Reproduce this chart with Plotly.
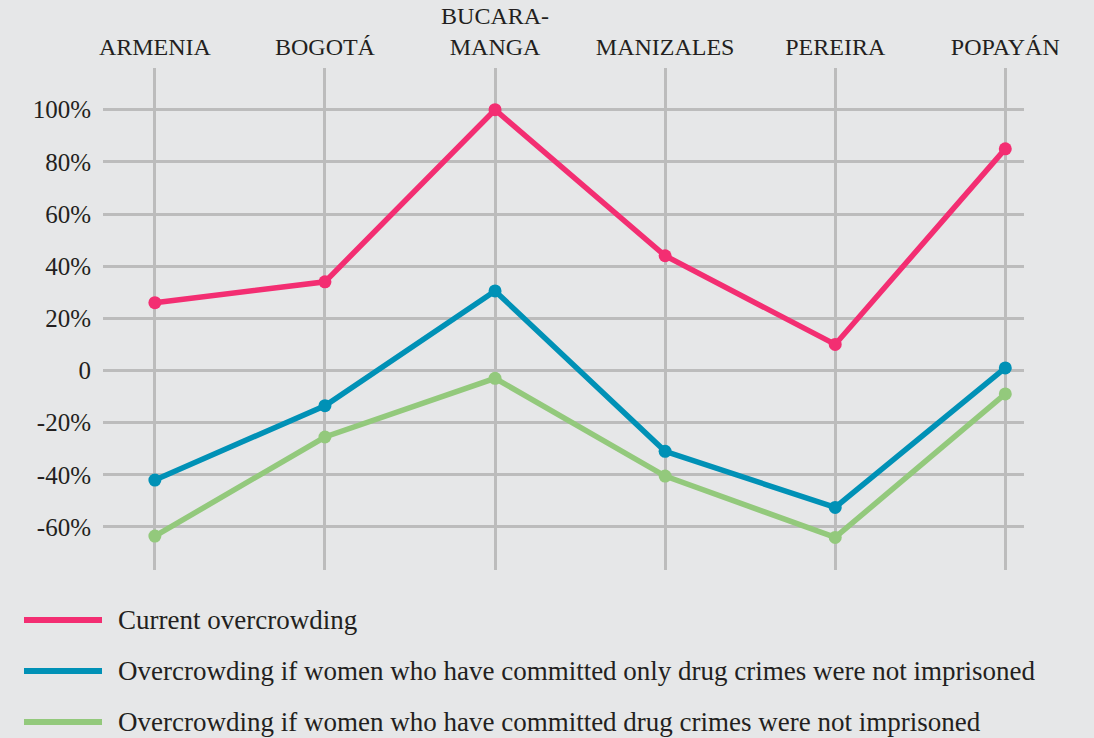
import plotly.graph_objects as go

cities = ["ARMENIA", "BOGOTÁ", "BUCARA-<br>MANGA", "MANIZALES", "PEREIRA", "POPAYÁN"]
current = [26, 34, 100, 44, 10, 85]
only_drug = [-42, -13.5, 30.5, -31, -52.5, 1]
drug = [-63.5, -25.5, -3, -40.5, -64, -9]
series_names = [
    "Current overcrowding",
    "Overcrowding if women who have committed only drug crimes were not imprisoned",
    "Overcrowding if women who have committed drug crimes were not imprisoned",
]
y_ticks = [100, 80, 60, 40, 20, 0, -20, -40, -60]
y_tick_labels = ["100%", "80%", "60%", "40%", "20%", "0", "-20%", "-40%", "-60%"]

colors = ["#f32e72", "#0091b6", "#93c97c"]
bg = "#e6e7e8"
grid = "#bcbcbc"
txt = "#231f20"
font_family = "Liberation Serif"

x = list(range(len(cities)))
fig = go.Figure()
for vals, name, col in zip([current, only_drug, drug], series_names, colors):
    fig.add_trace(go.Scatter(
        x=x, y=vals, name=name, mode="lines+markers",
        line=dict(color=col, width=5.5),
        marker=dict(color=col, size=13),
        showlegend=False,
    ))

# manual legend
for i, (name, col) in enumerate(zip(series_names, colors)):
    ly = 1 - (620 - 68 + 51 * i) / 502
    fig.add_shape(type="line", xref="paper", yref="paper",
                  x0=(24 - 103) / 921, x1=(102 - 103) / 921, y0=ly, y1=ly,
                  line=dict(color=col, width=6))
    fig.add_annotation(xref="paper", yref="paper", x=(116 - 103) / 921, y=ly,
                       text=name, showarrow=False, xanchor="left", yanchor="middle",
                       font=dict(family=font_family, size=27, color=txt))

fig.update_layout(
    width=1094, height=738,
    paper_bgcolor=bg, plot_bgcolor=bg,
    margin=dict(l=103, r=70, t=68, b=168),
    font=dict(family=font_family, color=txt),
    xaxis=dict(
        side="top", tickvals=x, ticktext=cities, range=[-0.305, 5.11],
        showgrid=True, gridcolor=grid, gridwidth=3, zeroline=False,
        showline=False, ticks="outside", ticklen=2, tickcolor=bg,
        tickfont=dict(family=font_family, size=24, color=txt),
        automargin=False,
    ),
    yaxis=dict(
        tickvals=y_ticks, ticktext=y_tick_labels, range=[-76.5, 116],
        showgrid=True, gridcolor=grid, gridwidth=3, zeroline=False,
        showline=False, ticks="outside", ticklen=6, tickcolor=bg,
        tickfont=dict(family=font_family, size=25, color=txt),
        automargin=False,
    ),
)

fig.write_html("out.html", config={"responsive": False, "displayModeBar": False},
               post_script="document.body.style.margin='0';document.body.style.overflow='hidden';")
